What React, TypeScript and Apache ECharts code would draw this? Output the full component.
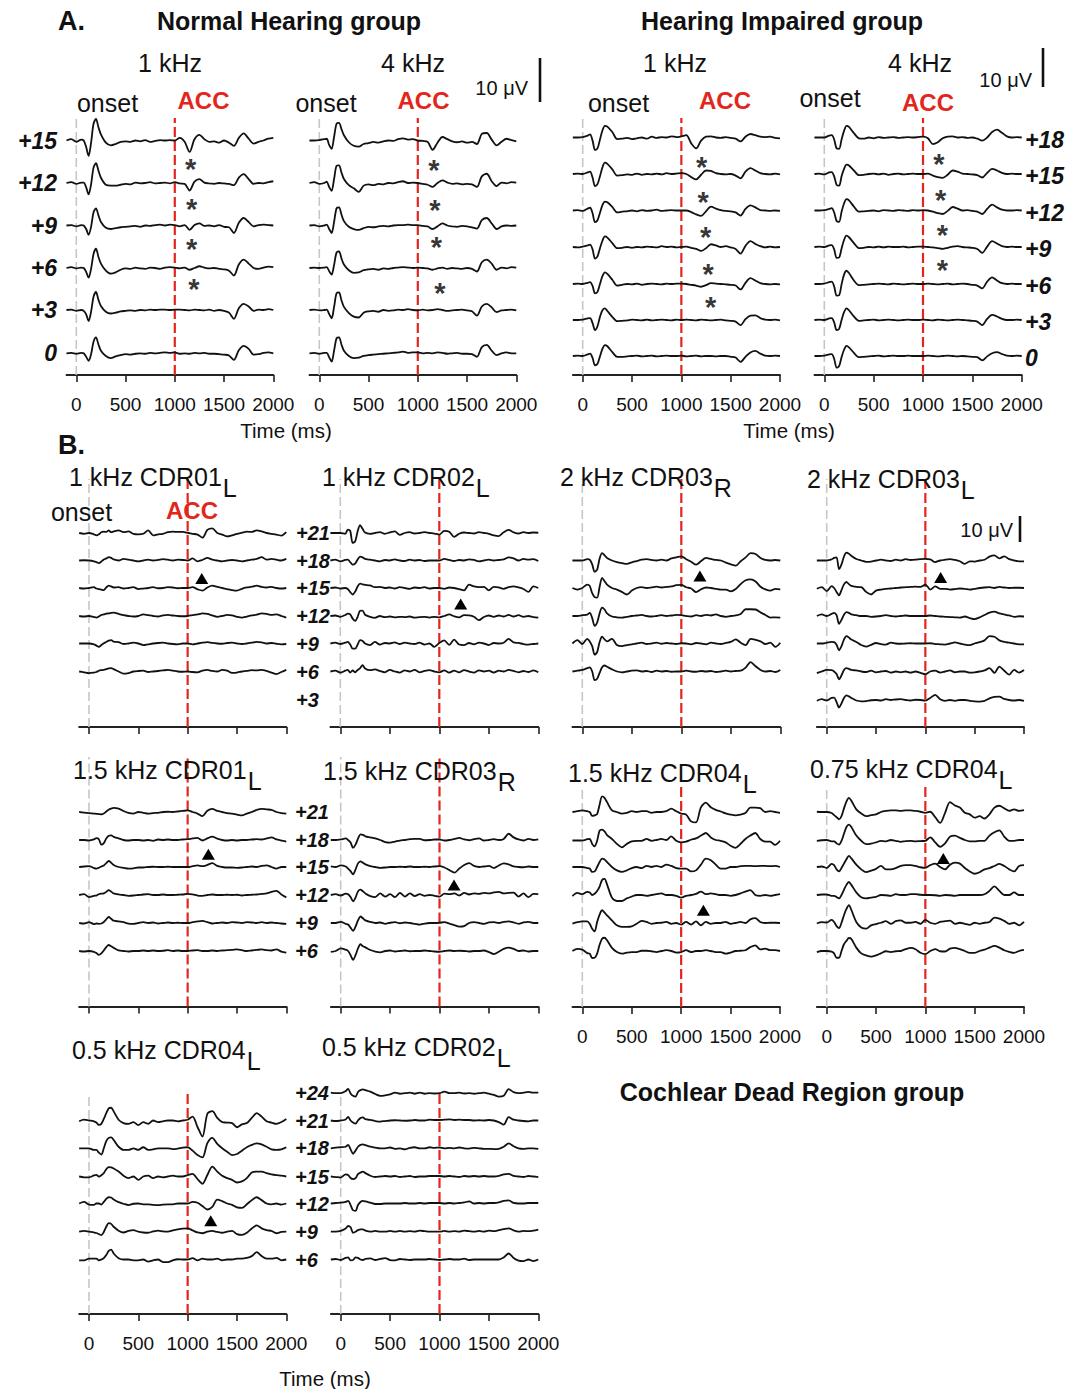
import React, { useEffect, useRef } from "react";
import * as echarts from "echarts";

const FONT = "'Liberation Sans', Arial, Helvetica, sans-serif";

// Sample times (ms) shared by every averaged waveform
const TIMES = [-100,-50,0,50,75,100,125,150,175,200,225,250,300,350,400,450,500,550,600,650,700,750,800,850,900,950,1000,1050,1100,1150,1200,1250,1300,1350,1400,1450,1500,1550,1600,1650,1700,1750,1800,1850,1900,1950,2000];
const TICKS = [0, 500, 1000, 1500, 2000];

// SNR row labels
const A_NH_SNR = ["+15", "+12", "+9", "+6", "+3", "0"];
const A_HI_SNR = ["+18", "+15", "+12", "+9", "+6", "+3", "0"];
const B_R1_SNR = ["+21", "+18", "+15", "+12", "+9", "+6", "+3"];
const B_R2_SNR = ["+21", "+18", "+15", "+12", "+9", "+6"];
const B_R3_SNR = ["+24", "+21", "+18", "+15", "+12", "+9", "+6"];

// ---- A. Normal hearing, 1 kHz (µV) ----
const NH_1K_TRACES = [
  [0,0.3,-0.3,0.2, 0,-1.5,-3.5,-0.5,3.8,4.9,3,1.4, -0.5,-1.1,-0.8,-0.3,-0.2,-0.3,0,-0.2,0.1,-0.3,-0.1,0.1,0,0.1, 0,0.6,-0.3,-2.6,0.3,1.3,0.3,-0.3,-0.2,-0.5,0, -0.5,-1.2,0.6,1.6,0.4,-0.7,-0.3,0,0.4,0.6],
  [0,0.2,-0.2,0.1, 0.1,-1,-2.6,-0.3,3.5,4.5,2.8,1.2, -0.4,-0.6,-0.6,-0.4,-0.2,-0.3,0.1,-0.1,0,0.2,-0.1,0,0.1,-0.1, 0.2,-0.1,-0.2,-1.7,0.3,0.9,0.1,-0.1,-0.2,0,-0.1, -0.2,-0.5,1.2,2,0.9,-0.2,0,-0.1,0.2,0.4],
  [0,0.1,-0.2,0.1, 0,-0.8,-2.1,-0.3,3,3.9,2.3,0.8, -0.5,-0.8,-0.6,-0.4,-0.3,-0.2,-0.1,-0.3,0,-0.1,0.1,0.2,0,0.2, 0.1,-0.2,0.1,-1,0.1,0.5,-0.1,0,-0.2,0.1,-0.3, -0.4,-1.7,0.6,1.7,0.8,-0.2,0.1,0.2,0.1,0],
  [0,0.2,-0.1,0.1, 0,-0.9,-2.2,-0.2,3.2,4.4,2.5,1, -0.6,-1.3,-1,-0.4,-0.1,-0.2,0.1,-0.1,-0.2,0.1,0,-0.2,0.1,0.2, 0.1,-0.1,0.1,-0.4,0,0.4,0.1,-0.1,0,-0.2,-0.3, -0.6,-1.7,0.8,1.9,1,0,-0.2,0.1,0.3,0.2],
  [0,0.1,-0.2,0, -0.2,-1,-2.5,-0.4,3,4.1,2.3,0.9, -0.4,-0.8,-0.6,-0.3,-0.2,-0.1,-0.2,0,-0.1,0.1,0,0.1,0.1,0, 0.1,0.1,0,-0.1,0.1,0,-0.1,0.1,-0.2,0,-0.2, -0.6,-2,0.4,1.4,0.8,-0.2,0.1,0,0.2,0],
  [0,0.1,-0.1,0.1, 0,-0.8,-1.7,-0.2,2.6,3.6,2,0.6, -0.6,-1.1,-0.7,-0.4,-0.2,-0.3,-0.1,0,-0.1,0.1,0,0.1,0.2,0.1, 0.2,-0.1,0,-0.1,0.1,0,0.1,-0.1,-0.1,-0.2,-0.3, -0.5,-1.5,0.7,1.7,1,-0.3,-0.2,0.1,0.2,0],
];

// ---- A. Normal hearing, 4 kHz ----
const NH_4K_TRACES = [
  [0,0,0.1,0.3, 0.4,-1,-1.9,0.8,3.8,4,2.6,1.2, -0.4,-1.2,-1.4,-0.8,-0.6,-0.3,-0.5,-0.2,0,-0.1,0.3,0.5,0.2,0.3, 0,-0.1,-0.3,-2.1,-0.5,0.8,0.3,-0.2,-0.4,-0.2,-0.5, -0.3,-0.8,1.5,1.7,0.2,-1.1,-0.3,0.4,0.1,-0.2],
  [0,0.2,-0.2,0, 0.3,-0.9,-1.8,0.9,3.9,4,2.4,0.9, -0.5,-1.2,-2,-0.6,-0.3,-0.5,-0.2,-0.3,0,-0.1,0.2,0.4,0,0.1, 0,-0.2,-0.4,-0.9,0,0.6,0.1,-0.2,-0.1,-0.3,-0.2, -0.3,-0.9,1.5,2.1,0.4,-0.7,0.1,-0.1,0.2,0.1],
  [0,0.1,-0.2,0, 0.2,-0.8,-1.7,0.8,3.9,4.1,2.5,1, -0.3,-0.8,-1,-0.6,-0.3,-0.4,-0.2,-0.1,-0.2,0,0.1,0.1,0.2,0.1, 0.1,-0.1,-0.2,-0.8,-0.2,0.5,0,-0.2,-0.3,-0.1,-0.2, -0.4,-0.7,1.2,1.7,0.5,-0.8,-0.2,0,-0.1,0],
  [0,0.1,0,0.1, 0.2,-0.7,-1.5,0.7,3.5,3.8,2.2,0.8, -0.5,-1.1,-1,-0.5,-0.3,-0.2,-0.4,-0.1,-0.2,0,0.1,0.2,0.1,0, 0.1,0,-0.1,-0.4,-0.1,0.1,-0.2,0,-0.1,-0.2,0, -0.2,-0.8,1.3,1.9,1,-0.4,0.1,-0.1,0.2,0.1],
  [0,0.1,-0.1,0, 0.1,-0.9,-1.9,0.7,3.8,4,2.2,0.7, -0.7,-1.5,-1.7,-0.6,-0.3,-0.2,-0.4,0,-0.2,-0.1,0.1,0,0.2,0, -0.1,0.1,-0.1,0,0.2,0,-0.2,-0.1,0,0.1,-0.1, -0.3,-1.3,0.8,1.4,0.6,-0.5,-0.1,0,0.1,-0.1],
  [0,0.1,-0.1,0.1, 0.1,-0.9,-1.9,0.6,3.4,3.6,2,0.6, -0.6,-1.1,-1,-0.6,-0.4,-0.3,-0.2,-0.1,0,0.1,0.2,0.4,0.1,0.2, 0.2,0,0.1,0,0.2,0.1,-0.1,0,0.1,-0.1,-0.1, -0.2,-0.8,1.4,1.9,0.6,-0.4,0,0.2,0,0],
];

// ---- A. Hearing impaired, 1 kHz ----
const HI_1K_TRACES = [
  [0,0,0.1,0.5, 0.8,-0.8,-3.2,-2.8,-0.5,1.8,3,2.8, 1.4,-0.4,-0.3,-0.1,-0.4,-0.2,0,-0.3,0.2,-0.1,0.1,0,0.3,0.1, 0.3,0.6,-1.5,-2.8,-0.8,0.2,0.3,0,-0.1,0.1,-0.1, -0.3,-1,0.2,0.9,0.6,0.2,0.1,0.2,-0.1,-0.2],
  [0,0.1,0,0.4, 0.6,-0.9,-3.1,-2.6,-0.6,1.7,2.9,2.6, 1.2,-0.4,-0.3,-0.1,-0.2,0.1,-0.2,0,-0.1,0.1,-0.1,0.2,0,0.1, 0.2,0,-0.8,-1.4,-0.2,0.9,0.8,0.2,0,-0.1,0, -0.4,-1.1,0.6,1.5,0.9,0.2,0,-0.1,0.1,-0.1],
  [0,0.1,-0.1,0.5, 0.7,-0.7,-3,-2.5,-0.6,1.4,2.3,2.1, 0.9,-0.5,-0.3,-0.2,0,-0.2,0.1,-0.1,0,0.2,-0.1,0,0.1,0, 0,0,-0.4,-1,-1.4,-0.2,1,0.5,0.1,-0.1,-0.2, -0.5,-1.3,0.4,1.3,0.8,0.1,0,-0.1,0,-0.1],
  [0,-0.1,0.1,0.4, 0.6,-0.6,-3,-2.4,-0.3,1.6,2.7,2.4, 1,-0.3,-0.2,0,-0.2,0,-0.1,0.1,0,-0.1,0.2,0,0.1,-0.1, 0,0.1,-0.2,-0.5,-1,-0.3,0.7,0.4,0,0.2,-0.1, -0.5,-1.7,0.3,1.5,0.8,0.2,-0.1,0.1,-0.1,0],
  [0,0.1,0,0.3, 0.5,-0.5,-2.4,-2,0,2,3,2.6, 1.1,-0.4,-0.2,0,-0.1,0.1,-0.2,0,0.1,0,-0.1,0.1,0,0.1, 0.1,0,-0.2,-0.4,-0.7,-0.3,0.2,0.1,0,-0.1,-0.2, -0.4,-1.4,0.3,1.5,0.9,0.2,0,-0.1,0,-0.1],
  [0,0,0.1,0.4, 0.5,-0.8,-2.6,-1.6,0.8,2.5,3,2.3, 0.8,-0.3,-0.2,-0.1,0.1,0,-0.1,0.1,-0.1,0,0.1,0,-0.1,0.1, 0,0.1,0,-0.1,0.1,0,-0.1,0,0.1,-0.1,-0.2, -0.4,-1.3,0.2,1.1,1.2,0.5,0.1,0,0.1,-0.1],
  [0,0.1,0,0.4, 0.6,-0.5,-2.4,-2,-0.1,1.8,2.8,2.5, 1,-0.2,-0.2,-0.1,0,0.1,-0.1,0,0.1,-0.1,0,0.1,0,0, 0.1,-0.1,0,0.1,-0.1,0,0,-0.1,0,0,-0.2, -0.4,-1.5,-0.2,0.9,1.3,0.6,0.1,0,0.1,0],
];

// ---- A. Hearing impaired, 4 kHz ----
const HI_4K_TRACES = [
  [0,0,0,0.5, 0.6,-0.5,-2.8,-2.9,-0.5,1.7,3,2.7, 1.1,-0.2,-0.3,0,-0.2,0.1,-0.1,0,0.1,-0.1,0,0.1,0,0.1, 0.2,-0.2,-1.7,-1.2,-0.2,0.2,0.3,0,0.1,-0.1,0, -0.3,-0.8,0,1.4,2,1.2,0.3,0,0.1,0],
  [0,0.1,-0.1,0.4, 0.5,-0.6,-2.8,-3,-0.6,1.3,2.4,2.2, 0.9,-0.3,-0.2,0,0.1,-0.1,0.1,-0.2,0,0.1,-0.1,0,0.1,0, 0,0.1,-0.4,-0.8,-1,-0.2,0.9,0.6,0.1,0,-0.1, -0.3,-0.9,0.3,1.3,0.9,0.3,0,0.1,0,0],
  [0,0,0.1,0.4, 0.6,-0.5,-2.7,-2.9,-0.3,1.8,2.9,2.6, 1,-0.3,-0.2,-0.1,0,-0.2,0.1,0,-0.1,0.1,0,-0.1,0.1,0, 0.1,0,-0.3,-0.7,-0.9,-0.1,0.9,0.5,0,0.1,-0.1, -0.3,-0.9,0.4,1.5,0.8,0.2,0,0,0.1,0],
  [0,0.1,0,0.4, 0.5,-0.6,-2.8,-2.7,-0.4,1.8,2.9,2.5, 1,-0.3,-0.2,0,-0.1,0.1,-0.1,0.1,0,0,0.1,-0.1,0,0.1, 0.1,0,-0.1,-0.3,-0.5,-0.2,0.1,0.2,0,-0.1,-0.2, -0.5,-1.5,0.1,1.5,0.9,0.2,0,0.1,0,0],
  [0,0,0.1,0.5, 0.6,-0.6,-3,-2.9,-0.1,2.4,3.4,2.8, 0.9,-0.3,-0.2,-0.1,0,0.1,0,-0.1,0.1,0,-0.1,0,0.1,0, 0,0.1,0,-0.1,0,0.1,-0.1,0,0.1,0,-0.2, -0.4,-1.1,0.6,1.7,0.9,0.2,0,0.1,0,0],
  [0,0.1,0,0.4, 0.5,-0.6,-2.6,-2.3,0,2,3,2.5, 0.9,-0.2,-0.1,0,0.1,-0.1,0,0.1,0,-0.1,0,0.1,0,0, 0.1,0,-0.1,0.1,0,-0.1,0,0.1,0,-0.1,-0.2, -0.4,-1.3,0.3,1.3,0.9,0.3,0,0,0.1,0],
  [0,0,0.1,0.4, 0.5,-0.7,-3,-2.6,-0.3,1.6,2.6,2.2, 0.8,-0.3,-0.2,-0.1,0,0.1,-0.1,0,0.1,0,0,0.1,0,0, 0,0.1,0,-0.1,0,0.1,0,-0.1,0,-0.1,-0.2, -0.3,-1.1,-0.1,0.7,1,0.5,0.1,0,0.1,0],
];

// ---- B. Cochlear dead region, row 1 ----
const CDR01L_1K_TRACES = [
  [0,-0.3,0,-0.5, -0.9,-0.5,0.3,0.5,0.4,1,0.3,0.6, 1,0.3,0.6,-0.3,-0.5,-0.3,1,-0.9,-0.5,-0.3,0.3,0.5,0.4,0.4, 0.1,-0.3,-0.6,-1.8,1.2,1.8,0,-0.6,-1.3,-0.9,-0.3, 0.1,0.5,0.4,1,0.6,0,-0.3,-0.6,-1,0.3],
  [0,0.1,0,-0.3, -0.6,-1,-0.4,0.4,0.8,1.3,1,0.4, 0,0.6,0.3,0,-0.3,0,0.3,0,0.2,0.5,0.3,0,0.3,0.2, 0,0.8,-0.3,0.2,1,0.3,0,-0.3,0,0.2,0, -0.3,0,0.3,0.6,1.3,0.3,0.6,0.3,0,0.6],
  [0,-0.2,0,0.3, -0.2,-0.4,-0.6,-0.8,0.2,0.9,0.6,0.2, 0.3,-0.2,0,0.3,-0.4,-0.2,0,0.3,-0.1,0,0.3,0.2,-0.1,0, 0,0.3,-0.5,-1,0.2,0.9,0.4,0,-0.4,-0.8,-1, -0.3,0.2,0.5,0.9,0.4,0.2,0.4,0,-0.2,0],
  [0,-0.2,0,-0.4, -0.6,-0.2,0.4,0.6,0.9,1,1.2,1.3, 0.8,0.3,0,-0.2,0,0.6,0.3,0,-0.2,0.2,0.4,0.2,0,-0.1, 0,0.3,0.6,1,0.8,0.2,-0.3,0,0.4,0.2,-0.3, -0.6,-0.2,0.2,0.5,1,0.8,0.4,0.6,0,-0.6],
  [0,0,0,-0.3, -0.8,-1.3,-0.6,0.1,0.6,1.1,1.3,0.7, 0.5,-0.2,0,0.3,0,-0.6,-0.3,0,0.2,0.3,0,-0.2,-0.3,0, 0,-0.3,0,0.3,0.5,0.2,0,-0.1,0.2,0.3,0, -0.2,0,0.3,0.6,0.4,0,0.2,-0.1,-0.3,-0.2],
  [0,-0.3,-0.6,-0.4, -0.2,0.3,0.5,0.6,0.9,1.2,1.3,0.9, 0,-0.8,-0.6,0,0.2,0.3,-0.2,0,0.2,0.4,0.6,0.3,0,-0.1, 0,-0.2,-0.3,0.3,0.6,0.2,0,0.6,0.3,-0.5,-0.4, 0,0.2,0.5,0.4,0.6,0.2,-0.4,-1,-0.2,0.6],
];
const CDR02L_1K_TRACES = [
  [0,0,0,-0.3, 1.3,0.8,-3.8,-3.2,0.6,3,1.6,0.2, -0.3,0,0.3,-0.3,0.2,0.6,-0.7,0,0.3,-0.2,0,0.3,0,-0.2, -0.6,0.8,0.5,-1.5,-0.3,0.2,0,-0.2,0.3,0,-0.3, -0.9,-1.2,0.3,1.2,0.3,-0.2,0.3,0,0.2,0.1],
  [0,0.3,-0.3,0.2, 0.3,-0.6,-1.6,-1.2,0.4,1.5,1.2,0.6, 0.3,0,-0.3,0.2,0,0.4,0,-0.2,0.3,0,0.2,-0.2,0,0, 0,0.6,0.2,-0.2,0.2,0,0.4,0.2,-0.3,0,0.3, 0,0.2,0.4,1.2,0.8,0,0.6,0.3,0.5,-0.2],
  [0,0.2,-0.2,0, -0.4,-1.6,-2.5,-1.4,0.6,1.7,1.4,1.2, 1,0.3,0.4,0,0.2,-0.2,0.3,0,-0.3,0.2,0,0.3,-0.2,0, 0,-0.3,0.2,0,-0.4,-0.9,1.3,0.6,0.3,0.4,-0.9, 0.4,0.2,-0.3,0.3,0.6,0.2,-0.4,-1.5,0.6,0],
  [0,0.2,-0.3,0.4, 0.9,0.6,-1,-1.9,-0.3,2,2.1,0.5, -0.3,-0.7,0,-0.4,-0.2,-0.5,-0.3,-0.4,-0.2,-0.6,-0.4,-0.3,-0.6,-0.3, -0.5,0,0.6,-0.1,-0.5,0.3,0.2,-0.3,-1.6,-0.4,0.2, -0.3,0.2,-0.2,0.4,-0.2,0.3,-0.3,0,-0.4,-0.6],
  [0,0.3,-0.2,0.3, 0.6,-0.4,-2,-2,-0.4,1.3,1,0, -0.6,0.6,-0.4,0.2,0,0.4,-0.2,0.3,0,-0.2,0.3,-0.4,0,-1.3, 0.2,1.2,-0.5,1.5,-0.4,-0.6,0.2,-0.3,0.3,0,-0.6, 0.2,0,0.3,1.8,0.4,0.2,-0.2,-0.4,-0.2,0],
  [0,0.3,-0.4,0.3, 0.6,-0.4,0.4,-0.3,0.6,1.3,2.4,1.2, 0.5,0.8,0.2,-0.3,0.6,0,-0.4,0.4,0,0.6,-0.3,0.2,0.5,0, -0.3,0.4,-0.4,0.3,-0.3,0.5,0,-0.4,0.4,0,0.3, -0.4,0.3,0,0.6,0.2,-0.3,0.2,-0.2,0.4,-0.3],
];
const CDR03R_2K_TRACES = [
  [0,0,0,0.5, 0.3,-1.5,-4.3,-3.5,0.8,2.8,2,1, 0,-0.6,-1,-1.3,-0.7,-0.2,0.3,0.5,0.2,0,0.3,0,0.8,1.2, 1.6,0.5,-0.5,-1.6,-0.2,1,0.6,0.2,0,-0.8,-1.5, -2,-0.3,1.2,2.8,2.5,1,0.2,0,0.2,0],
  [0,-0.6,0,1.3, 0.8,-2,-3.5,-3.7,0.5,3.9,2.6,1.3, 0,-0.6,-1.5,-2.5,-1,0,0.3,0,0.2,0.5,0.2,0.4,0.6,1.1, 1.2,0.3,-0.2,-1.6,-0.5,0.2,0,-0.3,-0.6,-0.6,-1.3, -0.4,1.5,3,3.3,2.5,0.5,-0.5,-1,-0.3,-0.5],
  [0,0,0.3,0.5, 1.2,-0.8,-3.8,-2.5,1,3.2,2.5,1, -0.2,-0.5,-0.6,-0.3,0,0.2,0.4,0,-0.2,0,0.3,0,0.2,0.4, 0.3,0,-0.2,0.3,0,0.4,0.2,0.6,0,-0.3,0, 0.2,0.8,2.6,2.6,2.5,1.4,0.4,-0.6,-0.5,-0.6],
  [0,1.3,-0.2,1.8, 0.8,-1,-4.3,-3.3,0.6,2.6,1.6,0.8, 1.8,-0.6,-1,-0.6,-0.3,0,0.3,-0.2,0,0.3,-0.1,0.2,0,-0.2, 0.1,0,-0.3,0.2,0,-0.3,0.3,0,-0.2,0.2,0.6, 1.6,0.3,-0.6,1.8,1.4,0.8,-0.2,0.3,-1.3,0.3],
  [0,0.3,0.6,1.3, 1.6,0,-3.3,-2.8,-0.5,1.6,2.3,1.8, 0.8,0,-0.3,0,0.3,0.4,0,0.2,-0.2,0.3,0,0.2,-0.1,0, 0,0.3,0,-0.1,0.2,0,0.2,-0.2,0,0.3,0, 0.2,0.3,1.5,3.6,2,0.6,0,0.2,-0.2,0.6],
];
const CDR03L_2K_TRACES = [
  [0,0,0,0.4, 1,1.2,-3.3,-1.5,1.5,3,2.6,1.8, 0.6,0,-0.5,-0.4,0,0.3,0,-0.2,0.3,0,0.5,0.2,0.3,0.5, 0.6,0.4,-0.6,0,0.3,0.5,0.2,-0.3,-1.3,-0.3,-0.4, 0,0.3,1.5,2,0.8,1.6,0.5,0,-0.3,-0.3],
  [-0.3,0.3,-1.2,0.7, 0,-1.5,-2.8,-0.8,1.4,2.3,1.5,0.8, 0.4,0.3,-1.5,-2.5,-1,-0.6,-0.3,-0.2,0,0.2,0.3,0.4,0.5,0.4, 1.3,-0.6,0.6,-0.3,-0.3,-0.6,-0.4,-0.2,-0.3,-0.6,-0.3, 0,0.2,0.3,0,0.4,0.2,0,0.1,0.1,0],
  [0,0.6,0,0.8, 1.2,0.3,-3,-1.5,0.5,1.5,1.2,0.6, 0.3,0,0,-0.3,-0.2,0,0.3,0,-0.2,0,0.2,0,0,0, 0,0.2,0,-0.2,-0.3,-0.4,-0.5,-0.6,-0.2,-0.8,-1.2, -0.5,0.4,1.3,1.7,1,0.6,0.2,-0.3,-0.1,-0.2],
  [0,0,0.3,0.6, 0.5,-0.5,-2.6,-1,1.5,2.8,2.3,1.5, 0.6,-0.6,-1.2,-0.5,0.2,-0.2,-0.4,0.3,0,-0.1,0,0.1,0,0, 0,0.1,-0.2,-0.3,-0.4,0,0.4,0,-0.4,-0.6,0, 0.5,1.2,2.8,2.6,1.2,0.6,0.3,0,-0.3,-0.3],
  [-0.6,0,0.6,0.5, 0,-1,-3,-1.5,0.6,1.3,1,0.6, 0.4,0,-0.2,0.3,-0.3,0,0.2,-0.4,0,-0.3,0,-0.4,0,-0.5, -1,0,0.3,-0.4,0,0.4,-0.3,0,0,-0.4,-0.3, 0,0.4,1.3,-0.5,1.9,0.3,-1.2,0.6,-0.4,0.6],
  [-0.3,0.3,-0.2,0.8, 0.9,-0.8,-2.9,-1.3,0.8,1.8,1.4,0.8, -0.2,-0.5,-0.4,-0.1,0,-0.2,0.3,0,0.2,0.3,0,-0.2,0.1,0, -0.2,0.8,2,0.3,-0.3,0,-0.3,0,0,-0.3,-0.5, -0.6,-0.3,0.6,1.2,1.3,0.4,0,-0.2,0,-0.3],
];

// ---- B. row 2 ----
const CDR01L_1K5_TRACES = [
  [0,-0.2,-0.4,-0.6, -0.7,-0.8,-0.9,-0.6,0.2,0.9,1.3,1.6, 1.3,0.4,-0.3,-0.6,0,-0.3,-0.6,-0.4,-0.3,0,0.1,0,0.2,0.4, 0.6,0,-0.6,-1.6,0.5,1.2,0.4,0,-0.4,-0.6,-1, -1.3,-0.6,0,0.8,1.2,1,0.8,0,-0.4,-0.6],
  [0,0,-0.2,0.2, 0.7,0.3,-1.8,-1.2,0.6,1.6,1.8,1.2, 0.6,0,-0.2,0,0,-0.2,0,-0.3,0.2,0,0.2,0,0,0.2, 0.3,0.6,0.8,-0.2,0.6,1.3,0.5,0,-0.2,0,-0.2, 0,0,0.2,0.3,0.2,0.6,1,0.2,-0.2,-0.6],
  [0,0.2,0.3,-0.4, -0.6,-0.3,0.2,0.6,1.5,2.3,1.6,0.8, 0,-0.3,-0.6,-0.5,-0.2,-0.2,0,0.1,0,0,0.1,0,0,0, 0,0.3,0.6,0.3,0.8,1.5,0.4,0,-0.2,-0.2,-0.3, -0.2,0,0.2,0,0.4,0.6,0,-0.6,0,0],
  [0,0.3,-0.8,-0.3, -0.2,0.3,0.5,0.6,1.2,1.9,1.3,0.6, 0.2,0,-0.3,-0.2,0,0.2,0.3,0,0,0.2,0,0,0.1,0.2, 0.4,0.2,-0.2,-0.3,0,0.2,0,0,0.1,0,0.1, -0.2,0,0.1,0.2,0.4,0.6,1.2,1.6,0.2,-0.9],
  [0,-0.2,0.3,-0.4, -0.2,-0.3,-0.2,0.4,1.4,2.3,1.6,0.9, 0.6,0.3,-0.2,-0.3,0,0.3,0,0.2,-0.2,0,0.2,0,0.1,0, 0,0.3,0.6,0.8,0.3,-0.2,0,0.2,0,0.3,0.2, 0,0.3,0.2,0,0.3,0,0.2,0,-0.2,-0.3],
  [0,-0.2,0,-0.3, -0.8,-1.5,-0.9,0.2,1.5,2.3,1.8,1.2, 0.2,0,-0.2,0,0,0.2,0,0.2,0,0.1,0.3,0,0.2,0, 0,0.2,0.3,0,0,0.2,0,0.2,0.3,0.4,0.6, 0.3,0,0.2,0.4,0.6,0.3,0.2,0.6,-0.2,-0.6],
];
const CDR03R_1K5_TRACES = [
  [0,0,0.2,0.6, 0,-1,-3,-1.8,0.5,2.2,2,1.4, 1,0.6,0,-0.8,-1,-0.6,-0.2,0,0.3,0.4,0.4,-0.1,0,0.2, 0.2,-0.2,0,0.4,0.8,0.2,-0.1,0.3,0.6,-0.2,0, 0.3,0,0.4,2.4,1,0.2,-0.2,0.4,0,0.2],
  [0.2,0,0.6,0.2, -0.6,-1.6,-2.8,-1,1.4,2.2,1.6,1, 0.3,0,-0.3,-0.2,0,0,0.1,0,0.2,0,0,0.1,0,0.2, 0.3,-0.2,-1.2,-2.2,-0.6,0.8,1.5,0.4,0,0.2,0.4, -0.4,0.6,1.4,1,0.2,0,-0.1,0.2,0,0],
  [0,0.3,-0.2,0.5, 0.3,-0.8,-2.4,-1,1.4,2.1,1.4,0.6, -0.4,-0.8,0.6,-0.6,0.3,-0.8,0.8,-0.6,0.6,-0.4,0.3,-0.3,0,-0.3, -0.6,0.5,0.3,0.6,-0.2,0.8,0.2,0.6,0.4,0.8,0.6, 1,1.2,0.6,0.8,0.9,-0.6,0.6,-0.8,0.4,0.3],
  [0,0,0.4,-0.3, -0.6,-1.8,-3,-1.4,1,2.5,1.8,1, 0.4,0,0.2,-0.3,0.1,0.3,-0.1,0.2,0,-0.3,-0.6,-0.2,0,0, 0.1,0.3,-0.2,-0.8,-1.4,-1.2,0,0.3,0,-0.3,0.2, 0.3,0,0.4,0.6,0.2,-0.3,0.2,0.4,0,0],
  [-0.3,0,1,0.5, 0,-1.6,-3.4,-1.6,1,2.6,1.8,1.4, 0.4,-0.2,-0.5,0,0.2,-0.2,0,0.2,-0.1,0,0,0.2,0,-0.2, -0.3,0,0.2,0,0.1,0,-0.2,0,0,0.2,-0.4, -1.2,-0.3,0.8,1.3,0.8,0,0.2,-0.2,0,0],
];
const CDR04L_1K5_TRACES = [
  [0,0.3,0.6,0.3, 0,-1.5,-1.3,-0.8,2.8,6,5.4,3.8, 0.6,0,-0.6,-0.3,0.3,0,0.3,0.3,-0.3,0,0,0.3,1.3,0.3, -0.6,-1,-3.6,-4,1.8,3.6,1.8,0.8,0.2,-0.5,-1, -1.3,-1,-0.4,1.7,1.7,1.5,0,0.3,0,-0.3],
  [-0.2,-0.2,-0.2,0.3, 0.4,-1.5,-2.4,-0.3,3.6,4,3.3,1.9, 0.4,-1.5,-2.8,-1.5,-0.5,-0.3,-0.3,0.4,-0.3,0,0.4,0,1.4,-0.3, -0.9,-0.6,0.1,0.6,1.7,2.7,1,0,-0.3,-0.9,-2.2, -3,-1.5,0.4,1.7,2.7,0.4,-0.6,-0.6,-1.9,-0.3],
  [0,0,0,-0.4, -0.6,-1.9,-1.7,0,1.9,3.2,2.9,1.9, 0,-1.3,-1.9,-1.3,-0.4,0,-0.4,0.4,0,0.4,0,0.9,0.4,-0.4, -0.6,-0.6,-1.7,-1.3,0.9,3.2,2.6,0.9,-0.6,-0.6,0, 0,0.3,0.4,0.4,0.3,0.4,0.4,0.3,0.4,0],
  [-0.4,0.8,0.3,1.2, 1,0,0.5,1.5,3.2,5.8,6.2,4.1, -1,-2.3,-2.3,-1.3,-0.6,0,0,-0.3,0,0.3,0.6,0,0,-0.3, -1,-0.3,0,0.4,1.3,0.3,0.6,0.3,0,0,-0.3, 0,0.6,1.3,1.9,0,-0.3,0,-0.3,0,0.3],
  [-0.2,0.3,0.6,0.6, -0.3,-2.2,-3.2,0.4,3.2,4.9,4,2.9, 1,-0.9,-1.5,-1.5,-1.3,-0.3,0.8,0.4,-0.3,0,0.1,0.4,-0.3,0, -0.6,0.4,-0.6,0.6,-0.9,0.4,-0.3,0,0,0.4,-0.3, 0,0.4,0,1.4,1.9,0.4,0,0.1,0.1,0],
  [0,0.8,0.5,-0.8, -1,-2.7,-2.6,-1,2.4,4.7,5.1,4.1, 1.2,-0.4,-1,-0.6,-0.4,-0.4,0.1,0.1,-0.1,-0.4,0,0.3,0,-0.6, -0.4,0.3,-0.4,0,0,0.3,0,-0.4,-0.4,-1,-0.6, 0,0.1,0.3,1.5,2.2,0.6,0.9,0.3,0.3,0],
];
const CDR04L_0K75_TRACES = [
  [0.1,0,0,-0.4, -1.2,-2,-2.8,-1.6,1.4,4,5.4,4.3, 1,-0.6,-1.6,-1.2,-0.9,0,0.4,0.6,0.6,0.4,0.6,0.6,0.4,0.1, -0.3,0.1,-2,-4.2,-0.3,3.8,2.5,1.7,-0.3,-0.9,-2.2, -1.6,-2.5,-0.9,1.7,2.4,1.4,0.4,1,0.4,0.7],
  [-0.3,-0.1,0,-0.5, -0.5,-1.3,-1.8,-0.3,2.4,5,5.9,5, 1.7,-0.3,-1.6,-1.4,-0.9,-0.3,-0.5,0,-0.3,-0.7,-0.4,-0.3,-0.5,-0.4, -0.3,1,-0.9,-2.6,-1.3,1.3,1.7,0.8,0,-0.5,-0.5, -0.3,-0.3,1.7,3,3.7,1.3,-0.3,-0.3,0,0],
  [0,0.2,-0.4,1.2, 0.7,-0.9,-1.7,-0.4,1.3,3,4.3,3.3, 0.9,-0.9,-2,-1.4,-0.7,0.4,-0.9,-0.9,-0.4,0.4,0.7,0.7,0.4,-0.1, -0.3,0.7,1.3,0,-0.9,0.9,1.7,1.3,-0.4,-1.7,-2.6, -2,-0.9,-0.4,0.4,1.2,0.4,-0.9,-1.7,0.4,0.7],
  [0,0.2,0.2,-0.3, -0.3,-0.8,-1.3,0,2,3.9,5,3.9, 1,-0.9,-1.3,-1,-0.7,0,-0.1,-0.3,0.3,0,0,0.3,0.3,0.1, 0,0,-0.1,-0.3,0,-0.1,-0.3,0,0,0,0, 0,0.3,1.6,3.3,1.6,0,0,1,0,0],
  [-0.2,0.3,0.2,1.2, 0.4,-1.2,-2,0.1,3,5.4,6.9,5, 0.4,-1.7,-2.2,-0.9,-0.4,0.1,0.7,-0.3,0.7,1,0.1,0.1,0.4,-0.3, 1.2,0.1,-0.3,0.4,0.7,0.9,-0.3,0.1,-0.3,-0.7,0.1, -0.3,0.1,0.4,2.1,1.7,0.8,-0.3,0.1,-0.9,0.4],
  [-0.4,0,0,-0.2, -0.9,-2.6,-2.6,0,2.6,3.9,5,4.6, 1.3,-0.9,-1.7,-2.2,-1.7,-0.9,-0.1,-0.4,-0.1,0,0.7,1.2,0.7,-0.7, -1.2,0,0.7,-0.1,-0.2,0.9,1.2,0.7,0,-0.7,-0.7, 0,0.5,1.3,2,1.3,0.3,-0.3,-0.7,0,0.4],
];

// ---- B. row 3 ----
const CDR04L_0K5_TRACES = [
  [-0.3,0.3,0,-0.3, -0.8,-1.7,-1.3,0.6,2.8,4.7,4.9,3.5, 0.3,-1,-1.3,-0.6,-1.8,-0.6,-1.3,0,-0.6,-0.3,0,0,-0.3,0, 0.3,1.5,-2.5,-6.2,2.6,3.6,1,-0.6,-0.8,-1,-2.6, -1.5,-1,1,2.8,1.5,-0.3,-0.8,-1.3,-0.6,0.6],
  [0,0,0,-0.6, -0.6,-1.7,-2.4,0,2.8,4,4.2,3.2, 0.6,-0.6,-0.6,0,-0.6,0.4,-0.6,-0.4,0,0,0,-0.3,-0.1,0.3, 0.4,-0.9,-2.6,-3.5,2,4,1.7,0,-1.3,-2.6,-2.2, -0.9,0.4,1.3,1.9,1.5,0.6,-0.4,-0.6,-0.4,0.4],
  [0,-0.3,-0.3,0.4, 0.6,0,0.5,1.3,2.8,3.6,3.5,3.1, 1.9,0.3,-0.6,0,-1.3,0,0.3,-0.6,0,-0.3,0,0.3,0,0, 0.5,1,-1,-2.8,0.6,3.8,1.9,0.3,-0.6,-1.3,-2.3, -1.9,-0.6,1.5,1.9,1.9,1.3,0.8,0.5,0.3,0],
  [0,0.6,-0.4,-0.5, 0,0,-0.4,0.6,1.8,2.4,2.3,1.5, 0.5,-0.1,-0.6,-0.1,0,-0.3,-0.3,-0.5,-0.6,-0.4,-0.3,-0.3,0,0, 0,0.6,0.3,-1,-2.3,-1.3,1.5,0.9,0,-0.5,-1.5, -1.7,-0.3,1.3,2.4,1.3,0,-0.3,0,-0.4,0],
  [0,0.3,0,-0.3, -0.5,-0.9,-1.3,-0.1,1.9,3.3,3,1.9, 0.4,-0.3,0.3,0.6,0,-0.3,-0.4,0.1,0.4,0.1,0,0.5,0.9,1.2, 1.3,0.5,-0.3,-0.6,0,0.3,-0.1,-0.4,0,0.3,-0.9, -1.2,-0.4,1.2,2.4,1.3,0.6,0.3,-0.6,-0.1,0],
  [-0.3,-0.3,0.3,0.3, 0.3,-0.3,0,0.5,1.7,3.3,3.8,2.3, 0.5,0,0,-0.3,-0.3,0,-0.8,-0.3,0,-1,-1,-0.3,0.1,0, 0,0.5,-0.3,0.3,0,0,0.3,-0.3,0,0,0.3, 0.3,0.6,1.3,2.8,1.3,0.3,0.3,0.6,-0.3,0],
];
const CDR02L_0K5_TRACES = [
  [0,-0.2,-0.2,0.6, 1.5,-0.3,-1.2,-1.5,0.3,1,1.3,1, 0.4,-0.5,-1.2,-1,-0.6,0,-0.4,-0.2,0,-0.4,0,-0.4,-0.2,-0.3, -0.2,0.4,-0.2,-0.2,0,-0.3,-0.2,-0.4,-0.2,0,-0.4, -0.8,-1.5,-1.2,1.4,0.2,-0.2,0,0.3,0,0],
  [0,-0.2,0,0.4, 1.4,0,-0.8,-1.2,0,1,1.2,0.5, 0.2,-0.2,-0.4,-0.2,0,0.1,0,-0.1,0,0.2,0,0,0.3,0.2, 0.2,0.3,0.4,0.2,0.3,0.2,0.2,0,0.1,0,0.2, 0,-0.6,-1.6,1.3,0.3,0,-0.2,-0.3,0,0],
  [0,0.3,0.4,0.6, 1.3,-0.4,-2.1,-0.9,0.6,1.3,1.5,1.2, 0.6,0.3,0,0,0.3,-0.2,0,-0.4,0.2,0.4,0,0,0.4,0.2, 0.3,0,0.2,0,0.3,0,-0.1,0.2,0,-0.2,-0.2, -0.3,-0.2,0.6,1.9,0.8,0,-0.2,0,0,-0.2],
  [0,-0.2,-0.4,0.8, 0.6,-0.6,-1,-0.6,0.9,1.5,1.9,1.3, 0.3,-0.2,0,0.2,0,0.2,-0.2,0,0.2,-0.2,0,0,0.2,0.2, 0.2,0,0.2,0,-0.2,0.2,0,0.2,0,0.2,0, 0,0.2,0.8,1,0.2,0,-0.2,0.2,0,-0.2],
  [0,0.2,0.3,0.6, 1,-0.6,-2.6,-2.8,-0.6,0.6,1,0.8, 0.3,-0.2,-0.2,0,0,0,0,0.2,0,0,0.2,0,0.2,0.2, 0.2,0,0.2,0,0.2,0.4,0.8,0,0.2,0,0.2, 0.2,0.4,1,1.2,0.2,0,0,0.2,0.2,0.2],
  [0,0,0.3,1.2, 2.2,1.7,-0.4,0,0.6,0.9,0.9,0.4, 0,0.3,0,0,0.3,0,0.3,0,0.2,0,0.4,0.2,0,0, 0,0.3,0,0.2,0,0.4,0.2,0,0.3,0,0.4, 0.2,0.6,1,1.3,0.5,0,0.3,0.2,0.4,0.8],
  [0,0.2,-0.2,0.6, 0.8,-0.3,-0.2,0.8,0.6,0,-0.2,0.2, 0.4,-0.2,0.2,0.5,-0.2,-0.3,0.2,0,-0.2,0,0,0,0.2,0, -0.2,0,0.2,0,0,0.3,-0.2,0,0,0,0, 0,0,0.8,2.3,0.6,-0.4,-0.6,0,-0.6,0],
];

// Significance markers: [row, time ms, µV relative to that row's baseline]
const NH_1K_STARS = [[0,1161,-4.8],[1,1171,-4.3],[2,1171,-3.7],[3,1195,-3.1]];
const NH_4K_STARS = [[0,1164,-5],[1,1174,-4.6],[2,1190,-3.3],[3,1224,-4.1]];
const HI_1K_STARS = [[0,1206,-5.8],[1,1222,-5.4],[2,1246,-5],[3,1272,-5.1],[4,1297,-4.1]];
const HI_4K_STARS = [[0,1162,-4.9],[1,1179,-4.9],[2,1196,-4.6],[3,1196,-4.2]];
const CDR01L_1K_TRI = [[2,1143,3.7]];
const CDR02L_1K_TRI = [[3,1216,4.6]];
const CDR03R_2K_TRI = [[2,1188,4.6]];
const CDR03L_2K_TRI = [[2,1155,4]];
const CDR01L_1K5_TRI = [[2,1210,4.9]];
const CDR03R_1K5_TRI = [[3,1147,3.8]];
const CDR04L_1K5_TRI = [[4,1225,4.9]];
const CDR04L_0K75_TRI = [[2,1182,3.3]];
const CDR04L_0K5_TRI = [[5,1234,4.2]];

// ---------- layout (pixels) ----------
const A_NH_ROWS = [140.5, 183, 225.5, 268, 310, 353.3];
const A_HI_ROWS = [137.5, 174, 210.5, 247, 284, 320, 356];
const B_R1_ROWS = [533, 560.5, 588, 616, 643.5, 671.5, 700];
const B_R2_ROWS = [812, 840, 867, 895, 923, 951];
const B_R3_ROWS = [1092.7, 1120.5, 1148.3, 1176.5, 1203.5, 1231.7, 1259.5];

type Panel = {
  traces: number[][]; x0: number; x2000: number; axisY: number; dashTop: number;
  rows: number[]; rowStart: number; pxPerUV: number; tickLabels: boolean;
  stars?: number[][]; tri?: number[][];
};

const PANELS: Panel[] = [
  { traces: NH_1K_TRACES, x0: 76.3, x2000: 273.3, axisY: 375, dashTop: 118, rows: A_NH_ROWS, rowStart: 0, pxPerUV: 4.4, tickLabels: true, stars: NH_1K_STARS },
  { traces: NH_4K_TRACES, x0: 319.3, x2000: 516.3, axisY: 375, dashTop: 118, rows: A_NH_ROWS, rowStart: 0, pxPerUV: 4.4, tickLabels: true, stars: NH_4K_STARS },
  { traces: HI_1K_TRACES, x0: 582.7, x2000: 780, axisY: 375, dashTop: 118, rows: A_HI_ROWS, rowStart: 0, pxPerUV: 3.9, tickLabels: true, stars: HI_1K_STARS },
  { traces: HI_4K_TRACES, x0: 824.3, x2000: 1021.7, axisY: 375, dashTop: 118, rows: A_HI_ROWS, rowStart: 0, pxPerUV: 3.9, tickLabels: true, stars: HI_4K_STARS },
  { traces: CDR01L_1K_TRACES, x0: 89, x2000: 286.3, axisY: 727, dashTop: 479, rows: B_R1_ROWS, rowStart: 0, pxPerUV: 2.6, tickLabels: false, tri: CDR01L_1K_TRI },
  { traces: CDR02L_1K_TRACES, x0: 340.3, x2000: 538.3, axisY: 727, dashTop: 479, rows: B_R1_ROWS, rowStart: 0, pxPerUV: 2.6, tickLabels: false, tri: CDR02L_1K_TRI },
  { traces: CDR03R_2K_TRACES, x0: 582.3, x2000: 780.3, axisY: 727, dashTop: 479, rows: B_R1_ROWS, rowStart: 1, pxPerUV: 2.6, tickLabels: false, tri: CDR03R_2K_TRI },
  { traces: CDR03L_2K_TRACES, x0: 826.7, x2000: 1024, axisY: 727, dashTop: 479, rows: B_R1_ROWS, rowStart: 1, pxPerUV: 2.6, tickLabels: false, tri: CDR03L_2K_TRI },
  { traces: CDR01L_1K5_TRACES, x0: 89, x2000: 286.3, axisY: 1006.5, dashTop: 757, rows: B_R2_ROWS, rowStart: 0, pxPerUV: 2.6, tickLabels: false, tri: CDR01L_1K5_TRI },
  { traces: CDR03R_1K5_TRACES, x0: 340.7, x2000: 538.3, axisY: 1006.5, dashTop: 757, rows: B_R2_ROWS, rowStart: 1, pxPerUV: 2.6, tickLabels: false, tri: CDR03R_1K5_TRI },
  { traces: CDR04L_1K5_TRACES, x0: 582.3, x2000: 780, axisY: 1007, dashTop: 787, rows: B_R2_ROWS, rowStart: 0, pxPerUV: 2.6, tickLabels: true, tri: CDR04L_1K5_TRI },
  { traces: CDR04L_0K75_TRACES, x0: 826.7, x2000: 1024, axisY: 1007, dashTop: 787, rows: B_R2_ROWS, rowStart: 0, pxPerUV: 2.6, tickLabels: true, tri: CDR04L_0K75_TRI },
  { traces: CDR04L_0K5_TRACES, x0: 89, x2000: 286.3, axisY: 1314, dashTop: 1093, rows: B_R3_ROWS, rowStart: 1, pxPerUV: 2.6, tickLabels: true, tri: CDR04L_0K5_TRI },
  { traces: CDR02L_0K5_TRACES, x0: 340.7, x2000: 538.3, axisY: 1314, dashTop: 1093, rows: B_R3_ROWS, rowStart: 0, pxPerUV: 2.6, tickLabels: true },
];

const TITLE_SIZE = 25;

function measure(s: string, size: number) {
  const c = document.createElement("canvas").getContext("2d");
  if (!c) return s.length * size * 0.55;
  c.font = `${size}px "Liberation Sans", Arial`;
  return c.measureText(s).width;
}

function txt(text: string, x: number, y: number, o: any = {}) {
  return {
    type: "text", x, y, silent: true, z: 20,
    style: {
      text, fill: o.fill || "#111", fontSize: o.size || TITLE_SIZE,
      fontWeight: o.weight || "normal", fontStyle: o.italic ? "italic" : "normal",
      fontFamily: FONT, align: o.align || "center", verticalAlign: "middle",
    },
  };
}

function vbar(x: number, top: number, len: number) {
  return { type: "line", silent: true, z: 20, shape: { x1: x, y1: top, x2: x, y2: top + len }, style: { stroke: "#111", lineWidth: 2.6 } };
}

function buildOption() {
  const grid: any[] = [], xAxis: any[] = [], yAxis: any[] = [], series: any[] = [];
  PANELS.forEach((p, i) => {
    const k = (p.x2000 - p.x0) / 2000;
    const height = p.axisY - p.dashTop;
    const ymax = height / p.pxPerUV;
    const off = (r: number) => (p.axisY - p.rows[r]) / p.pxPerUV;
    grid.push({ left: p.x0 - 100 * k, top: p.dashTop, width: 2100 * k, height, containLabel: false });
    xAxis.push({
      type: "value", gridIndex: i, min: -100, max: 2000,
      axisLine: { show: true, onZero: false, lineStyle: { color: "#222", width: 1.8 } },
      axisTick: { show: true, customValues: TICKS, length: 7, lineStyle: { color: "#222", width: 1.6 } },
      axisLabel: {
        show: p.tickLabels, customValues: TICKS, fontSize: 19, color: "#111", fontFamily: FONT, margin: 20,
        hideOverlap: false, formatter: (v: number) => String(v),
      },
      splitLine: { show: false },
    });
    yAxis.push({ type: "value", gridIndex: i, min: 0, max: ymax, show: false, splitLine: { show: false } });
    series.push({
      type: "line", xAxisIndex: i, yAxisIndex: i, data: [[0, 0], [0, ymax]], symbol: "none", silent: true, z: 1,
      lineStyle: { color: "#c6c6c6", width: 1.6, type: [9, 4] },
    });
    series.push({
      type: "line", xAxisIndex: i, yAxisIndex: i, data: [[1000, 0], [1000, ymax]], symbol: "none", silent: true, z: 1,
      lineStyle: { color: "#e3261c", width: 2.2, type: [10, 4] },
    });
    p.traces.forEach((tr, j) => {
      const o = off(p.rowStart + j);
      series.push({
        type: "line", xAxisIndex: i, yAxisIndex: i, symbol: "none", showSymbol: false, smooth: 0.3,
        clip: false, silent: true, z: 3,
        lineStyle: { color: "#111", width: 1.8 },
        data: TIMES.map((t, n) => [t, tr[n] + o]),
      });
    });
    if (p.stars) {
      series.push({
        type: "scatter", xAxisIndex: i, yAxisIndex: i, symbolSize: 1, silent: true, z: 5,
        itemStyle: { color: "rgba(0,0,0,0)" },
        label: { show: true, position: "inside", formatter: "*", fontSize: 29, fontWeight: "bold", color: "#000", fontFamily: FONT, offset: [0, 7] },
        data: p.stars.map((m) => [m[1], off(m[0]) + m[2]]),
      });
    }
    if (p.tri) {
      series.push({
        type: "scatter", xAxisIndex: i, yAxisIndex: i, symbol: "triangle", symbolSize: [13, 11], silent: true, z: 5,
        itemStyle: { color: "#000", opacity: 1 },
        data: p.tri.map((m) => [m[1], off(m[0]) + m[2]]),
      });
    }
  });

  const g: any[] = [];
  // Section A headers
  g.push(txt("A.", 58, 21, { size: 27, weight: "bold", align: "left" }));
  g.push(txt("Normal Hearing group", 289, 21, { weight: "bold" }));
  g.push(txt("Hearing Impaired group", 782, 21, { weight: "bold" }));
  g.push(txt("1 kHz", 170, 63));
  g.push(txt("4 kHz", 413, 63));
  g.push(txt("1 kHz", 675, 63));
  g.push(txt("4 kHz", 920, 63));
  g.push(txt("onset", 107.5, 103));
  g.push(txt("onset", 326, 103));
  g.push(txt("onset", 618.5, 103));
  g.push(txt("onset", 830, 98));
  g.push(txt("ACC", 203.5, 100, { weight: "bold", fill: "#e3261c", size: 24 }));
  g.push(txt("ACC", 423.5, 100, { weight: "bold", fill: "#e3261c", size: 24 }));
  g.push(txt("ACC", 725, 100, { weight: "bold", fill: "#e3261c", size: 24 }));
  g.push(txt("ACC", 928, 102, { weight: "bold", fill: "#e3261c", size: 24 }));
  // scale bars (10 µV)
  g.push(txt("10 μV", 528, 88, { size: 20, align: "right" }));
  g.push(vbar(540, 58, 10 * 4.4));
  g.push(txt("10 μV", 1032, 80, { size: 20, align: "right" }));
  g.push(vbar(1043, 48, 10 * 3.9));
  g.push(txt("10 μV", 1013, 530, { size: 20, align: "right" }));
  g.push(vbar(1020, 516, 10 * 2.6));
  // SNR labels A
  A_NH_SNR.forEach((s, r) => g.push(txt(s, 57, A_NH_ROWS[r], { size: 23, weight: "bold", italic: true, align: "right" })));
  A_HI_SNR.forEach((s, r) => g.push(txt(s, 1025, A_HI_ROWS[r] + 2, { size: 23, weight: "bold", italic: true, align: "left" })));
  g.push(txt("Time (ms)", 286, 430, { size: 20.5 }));
  g.push(txt("Time (ms)", 789, 430, { size: 20.5 }));
  // Section B
  g.push(txt("B.", 58, 445, { size: 27, weight: "bold", align: "left" }));
  const titles: [number, number, string, string][] = [
    [69, 477, "1 kHz CDR01", "L"], [322, 477, "1 kHz CDR02", "L"], [560, 477, "2 kHz CDR03", "R"], [807, 479, "2 kHz CDR03", "L"],
    [73, 770, "1.5 kHz CDR01", "L"], [323, 771, "1.5 kHz CDR03", "R"], [568, 773, "1.5 kHz CDR04", "L"], [810, 769, "0.75 kHz CDR04", "L"],
    [72, 1050, "0.5 kHz CDR04", "L"], [322, 1047, "0.5 kHz CDR02", "L"],
  ];
  titles.forEach(([x, y, main, sub]) => {
    g.push(txt(main, x, y, { align: "left" }));
    g.push(txt(sub, x + measure(main, TITLE_SIZE) + 1, y + 11, { align: "left" }));
  });
  g.push(txt("onset", 81.5, 512));
  g.push(txt("ACC", 192, 510, { weight: "bold", fill: "#e3261c", size: 24 }));
  B_R1_SNR.forEach((s, r) => g.push(txt(s, 296, B_R1_ROWS[r], { size: 20, weight: "bold", italic: true, align: "left" })));
  B_R2_SNR.forEach((s, r) => g.push(txt(s, 295, B_R2_ROWS[r], { size: 20, weight: "bold", italic: true, align: "left" })));
  B_R3_SNR.forEach((s, r) => g.push(txt(s, 295, B_R3_ROWS[r], { size: 20, weight: "bold", italic: true, align: "left" })));
  g.push(txt("Cochlear Dead Region group", 792, 1092, { weight: "bold" }));
  g.push(txt("Time (ms)", 325, 1378, { size: 20.5 }));

  return {
    animation: false,
    backgroundColor: "#ffffff",
    grid, xAxis, yAxis, series, graphic: g,
  };
}

export default function App() {
  const ref = useRef<HTMLDivElement>(null);
  useEffect(() => {
    if (!ref.current) return;
    const chart = echarts.init(ref.current, undefined, { renderer: "svg" });
    chart.setOption(buildOption() as any);
    return () => chart.dispose();
  }, []);
  return (
    <div
      ref={ref}
      style={{ position: "fixed", left: 0, top: 0, width: 1084, height: 1389, background: "#fff" }}
    />
  );
}
